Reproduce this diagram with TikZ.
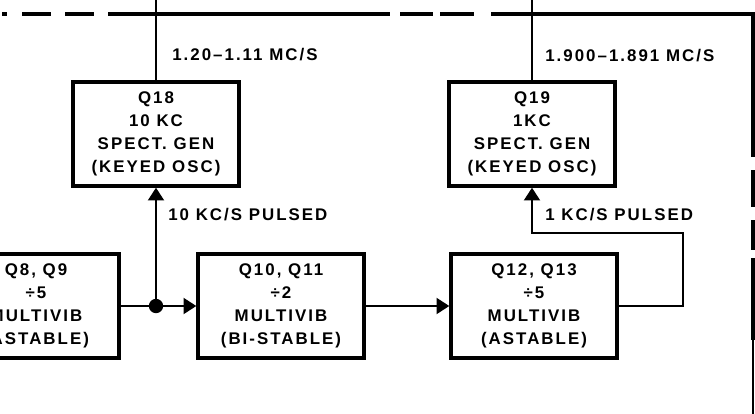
\documentclass[tikz,border=0pt]{standalone}
\usepackage{fontspec}
\usetikzlibrary{positioning, arrows.meta}
\newfontfamily\letterfont{Liberation Sans}[LetterSpace=12]

\begin{document}
\begin{tikzpicture}[x=0.25mm, y=-0.25mm,
  every node/.style={font=\letterfont\bfseries\fontsize{12}{16.4}\selectfont},
  blk/.style={draw, line width=2.4pt, minimum width=41.5mm, minimum height=26mm,
              align=center, inner sep=0pt},
  wire/.style={line width=1.5pt},
  bus/.style={line width=3pt},
  arr/.style={wire, -{Triangle[length=3.2mm, width=4mm]}},
  dot/.style={circle, fill, inner sep=0pt, minimum size=3.6mm},
  lbl/.style={anchor=west, inner sep=0pt},
]
  \clip (0,0) rectangle (755,414);
  \fill[white] (0,0) rectangle (755,414);

  % Spectrum generators
  \node[blk] (q18) at (156,134) {Q18\\10 KC\\SPECT. GEN\\(KEYED OSC)};
  \node[blk] (q19) at (532,134) {Q19\\1KC\\SPECT. GEN\\(KEYED OSC)};

  % Divider chain
  \node[blk] (q8)  at (36,306)  {Q8, Q9\\÷5\\MULTIVIB\\(ASTABLE)};
  \node[blk] (q10) at (281,306) {Q10, Q11\\÷2\\MULTIVIB\\(BI-STABLE)};
  \node[blk] (q12) at (534,306) {Q12, Q13\\÷5\\MULTIVIB\\(ASTABLE)};

  \node[dot] (split) at (q18.south |- q8.east) {};
  \draw[wire] (q8.east) -- (split);
  \draw[arr] (split) -- (q10.west);
  \draw[arr] (split) -- (q18.south);
  \draw[arr] (q10.east) -- (q12.west);

  \coordinate (fbk) at (683,233);
  \draw[arr] (q12.east) -| (fbk) -| (q19.south);

  % Outputs to the bus
  \coordinate (top18) at (156,0);
  \coordinate (top19) at (532,0);
  \draw[wire] (q18.north) -- (top18);
  \draw[wire] (q19.north) -- (top19);

  % Bus frame
  \foreach \a/\b in {2/7, 22/51, 65/94, 108/390, 400/433, 440/474}
    \draw[bus] (\a,14) -- (\b,14);
  \draw[bus] (491,14) -- (753,14) -- (753,157);
  \foreach \a/\b in {170/207, 220/250, 258/340}
    \draw[bus] (753,\a) -- (753,\b);
  \draw[wire] (753,340) -- (753,414);

  % Labels
  \node[lbl] (f18) at (172,55)  {1.20–1.11 MC/S};
  \node[lbl] (f19) at (545,56)  {1.900–1.891 MC/S};
  \node[lbl] (p18) at (168,215) {10 KC/S PULSED};
  \node[lbl] (p19) at (545,215) {1 KC/S PULSED};
\end{tikzpicture}
\end{document}
